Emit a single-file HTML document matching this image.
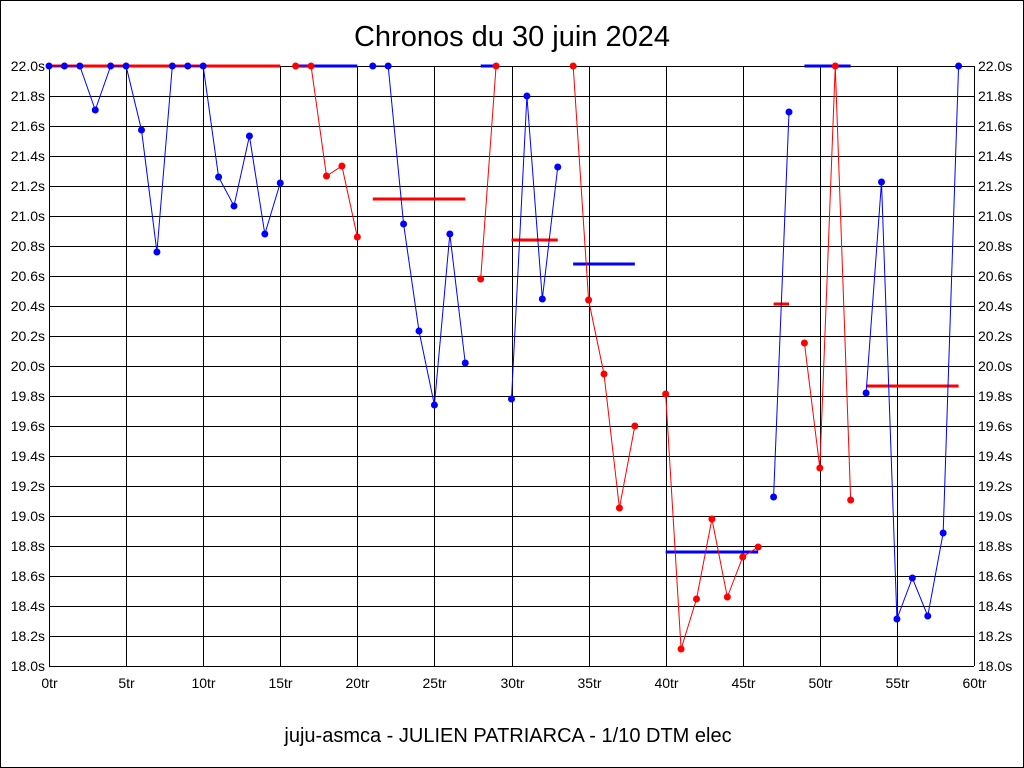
<!DOCTYPE html>
<html><head><meta charset="utf-8"><style>
body{margin:0;background:#fff}
svg{display:block}
text{font-family:"Liberation Sans",sans-serif;font-size:14px;fill:#000}
</style></head><body>
<svg width="1024" height="768" xmlns="http://www.w3.org/2000/svg">
<rect x="0.5" y="0.5" width="1023" height="767" fill="#fff" stroke="#000"/>
<text x="512" y="46" text-anchor="middle" style="font-size:29px">Chronos du 30 juin 2024</text>
<text x="508" y="742" text-anchor="middle" style="font-size:20px">juju-asmca - JULIEN PATRIARCA - 1/10 DTM elec</text>
<g id="grid" stroke="#000" stroke-width="1"></g>
<g id="lab"></g>
<g id="data"></g>
</svg>
<script>
const X=i=>49+i*925/60;
const ns="http://www.w3.org/2000/svg";
const g=document.getElementById('grid'),lab=document.getElementById('lab'),d=document.getElementById('data');
function el(p,t,a,txt){const e=document.createElementNS(ns,t);for(const k in a)e.setAttribute(k,a[k]);if(txt)e.textContent=txt;p.appendChild(e);return e;}
for(let k=0;k<=20;k++){const y=66+k*30;el(g,'line',{x1:49,x2:974,y1:y+.5,y2:y+.5});
const v=(22-k*0.2).toFixed(1)+'s';el(lab,'text',{x:45,y:y+5,'text-anchor':'end'},v);el(lab,'text',{x:978,y:y+5},v);}
for(let k=0;k<=12;k++){const x=Math.round(X(k*5))+.5;el(g,'line',{x1:x,x2:x,y1:66,y2:666});
el(lab,'text',{x:x,y:688,'text-anchor':'middle'},(k*5)+'tr');}
const B='#0000ff',R='#ff0000';
const series=[
[B,0,[66,66,66,110,66,66,130,252,66,66,66,177,206,136,234,183]],
[R,16,[66,66,176,166,237]],
[B,21,[66,66,224,331,405,234,363]],
[R,28,[279,66]],
[B,30,[399,96,299,167]],
[R,34,[66,300,374,508,426]],
[R,40,[394,649,599,519,597,557,547]],
[B,47,[497,112]],
[R,49,[343,468,66,500]],
[B,53,[393,182,619,578,616,533,66]]];
const avgs=[[R,0,15,66],[B,16,20,66],[R,21,27,199],[B,28,29,66],[R,30,33,240],[B,34,38,264],[B,40,46,552],[R,47,48,304],[B,49,52,66],[R,53,59,386]];
for(const [c,a,b,y] of avgs){let x1=X(a),x2=X(b);if(a===b){x1-=4;x2+=4}
el(d,'line',{x1:x1,x2:x2,y1:y,y2:y,stroke:c,'stroke-width':3});}
for(const [c,s,ys] of series){el(d,'polyline',{points:ys.map((y,i)=>X(s+i)+','+y).join(' '),fill:'none',stroke:c,'stroke-width':1});
ys.forEach((y,i)=>el(d,'circle',{cx:X(s+i),cy:y,r:3.5,fill:c}));}
</script>
</body></html>
